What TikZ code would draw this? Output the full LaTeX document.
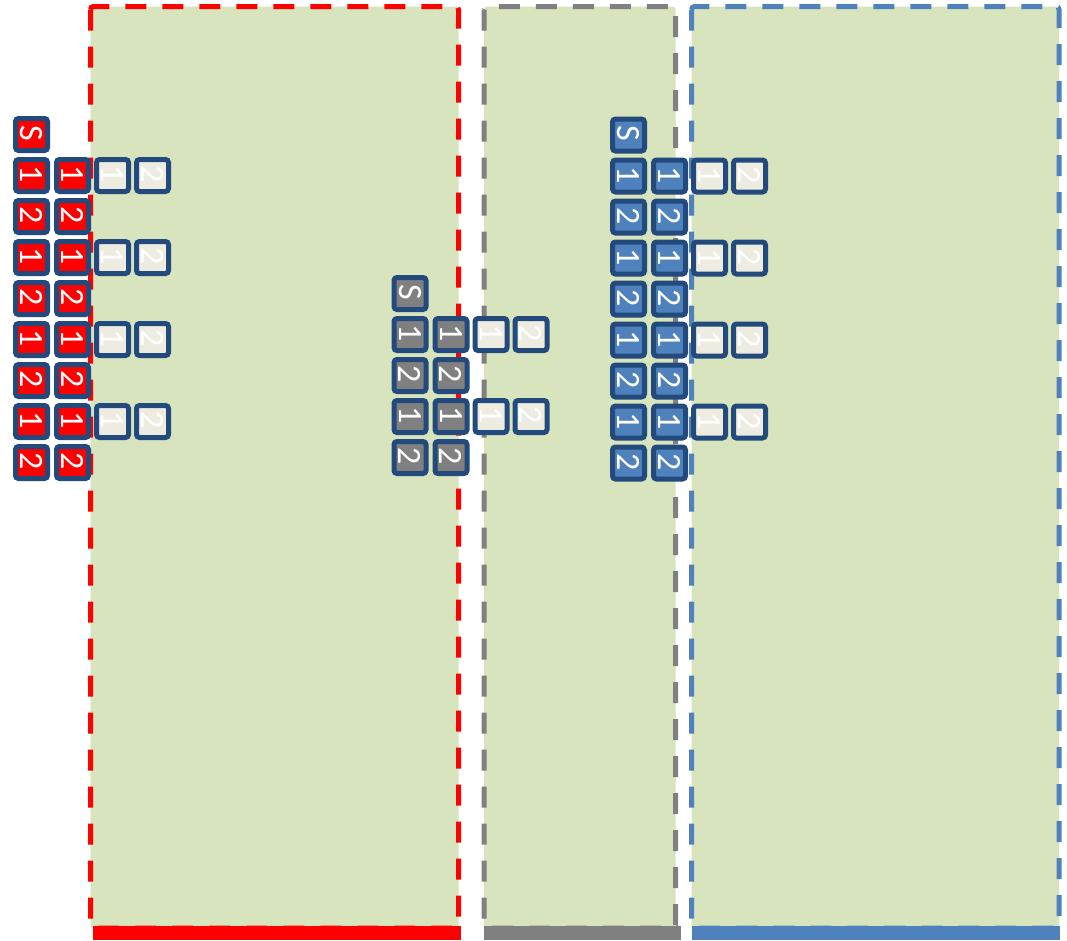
\documentclass[tikz,border=0pt]{standalone}
\usepackage{fontspec}
\setsansfont{Carlito}
\usepackage{graphicx}
\usetikzlibrary{positioning}

\definecolor{panelgreen}{HTML}{D7E4BD}
\definecolor{boxred}{HTML}{FF0000}
\definecolor{boxgray}{HTML}{808080}
\definecolor{boxblue}{HTML}{4F81BD}
\definecolor{navy}{HTML}{234A7C}
\definecolor{cream}{HTML}{EEECE1}

\newcommand{\rt}[1]{\rotatebox[origin=c]{-90}{#1}}

\begin{document}
\begin{tikzpicture}[
      x=1pt, y=-1pt,
      node distance=4pt and 4pt,
      sq/.style={rectangle, draw=navy, line width=5pt, rounded corners=3pt, minimum size=32pt, inner sep=0pt, text=white, font=\sffamily\fontsize{34}{34}\selectfont},
      redsq/.style={sq, fill=boxred},
      graysq/.style={sq, fill=boxgray},
      bluesq/.style={sq, fill=boxblue},
      slot/.style={sq, fill=cream},
      panel/.style={fill=panelgreen, line width=5pt, dash pattern=on 21pt off 16pt, rounded corners=3pt}
    ]
    \useasboundingbox (0,0) rectangle (1067,940);

    % panels
    \draw[panel, draw=boxred] (90.5,6.5) rectangle (458.5,928);
    \draw[panel, draw=boxgray] (484,6.5) rectangle (675.5,928);
    \draw[panel, draw=boxblue] (691.5,6.5) rectangle (1059,928);
    \fill[boxred] (93,925.5) rectangle (461,940);
    \fill[boxgray] (484,925.5) rectangle (681,940);
    \fill[boxblue] (692,925.5) rectangle (1060,940);

    % red group
    \node[redsq] (rs) at (31.5,134.5) {\rt{S}};
    \node[redsq, below=of rs] (r1) {\rt{1}};
    \node[redsq, below=of r1] (r2) {\rt{2}};
    \node[redsq, below=of r2] (r3) {\rt{1}};
    \node[redsq, below=of r3] (r4) {\rt{2}};
    \node[redsq, below=of r4] (r5) {\rt{1}};
    \node[redsq, below=of r5] (r6) {\rt{2}};
    \node[redsq, below=of r6] (r7) {\rt{1}};
    \node[redsq, below=of r7] (r8) {\rt{2}};
    \node[redsq, right=of r1] (rr1) {\rt{1}};
    \node[redsq, right=of r2] (rr2) {\rt{2}};
    \node[redsq, right=of r3] (rr3) {\rt{1}};
    \node[redsq, right=of r4] (rr4) {\rt{2}};
    \node[redsq, right=of r5] (rr5) {\rt{1}};
    \node[redsq, right=of r6] (rr6) {\rt{2}};
    \node[redsq, right=of r7] (rr7) {\rt{1}};
    \node[redsq, right=of r8] (rr8) {\rt{2}};
    \node[slot, right=3pt of rr1] (rc1) {\rt{1}};
    \node[slot, right=3pt of rc1] (rd1) {\rt{2}};
    \node[slot, right=3pt of rr3] (rc3) {\rt{1}};
    \node[slot, right=3pt of rc3] (rd3) {\rt{2}};
    \node[slot, right=3pt of rr5] (rc5) {\rt{1}};
    \node[slot, right=3pt of rc5] (rd5) {\rt{2}};
    \node[slot, right=3pt of rr7] (rc7) {\rt{1}};
    \node[slot, right=3pt of rc7] (rd7) {\rt{2}};

    % gray group
    \node[graysq] (gs) at (410,293.5) {\rt{S}};
    \node[graysq, below=of gs] (g1) {\rt{1}};
    \node[graysq, below=of g1] (g2) {\rt{2}};
    \node[graysq, below=of g2] (g3) {\rt{1}};
    \node[graysq, below=of g3] (g4) {\rt{2}};
    \node[graysq, right=of g1] (gg1) {\rt{1}};
    \node[graysq, right=of g2] (gg2) {\rt{2}};
    \node[graysq, right=of g3] (gg3) {\rt{1}};
    \node[graysq, right=of g4] (gg4) {\rt{2}};
    \node[slot, right=3pt of gg1] (gc1) {\rt{1}};
    \node[slot, right=3pt of gc1] (gd1) {\rt{2}};
    \node[slot, right=3pt of gg3] (gc3) {\rt{1}};
    \node[slot, right=3pt of gc3] (gd3) {\rt{2}};

    % blue group
    \node[bluesq] (bs) at (628.5,135) {\rt{S}};
    \node[bluesq, below=of bs] (b1) {\rt{1}};
    \node[bluesq, below=of b1] (b2) {\rt{2}};
    \node[bluesq, below=of b2] (b3) {\rt{1}};
    \node[bluesq, below=of b3] (b4) {\rt{2}};
    \node[bluesq, below=of b4] (b5) {\rt{1}};
    \node[bluesq, below=of b5] (b6) {\rt{2}};
    \node[bluesq, below=of b6] (b7) {\rt{1}};
    \node[bluesq, below=of b7] (b8) {\rt{2}};
    \node[bluesq, right=of b1] (bb1) {\rt{1}};
    \node[bluesq, right=of b2] (bb2) {\rt{2}};
    \node[bluesq, right=of b3] (bb3) {\rt{1}};
    \node[bluesq, right=of b4] (bb4) {\rt{2}};
    \node[bluesq, right=of b5] (bb5) {\rt{1}};
    \node[bluesq, right=of b6] (bb6) {\rt{2}};
    \node[bluesq, right=of b7] (bb7) {\rt{1}};
    \node[bluesq, right=of b8] (bb8) {\rt{2}};
    \node[slot, right=3pt of bb1] (bc1) {\rt{1}};
    \node[slot, right=3pt of bc1] (bd1) {\rt{2}};
    \node[slot, right=3pt of bb3] (bc3) {\rt{1}};
    \node[slot, right=3pt of bc3] (bd3) {\rt{2}};
    \node[slot, right=3pt of bb5] (bc5) {\rt{1}};
    \node[slot, right=3pt of bc5] (bd5) {\rt{2}};
    \node[slot, right=3pt of bb7] (bc7) {\rt{1}};
    \node[slot, right=3pt of bc7] (bd7) {\rt{2}};
  \end{tikzpicture}
\end{document}
